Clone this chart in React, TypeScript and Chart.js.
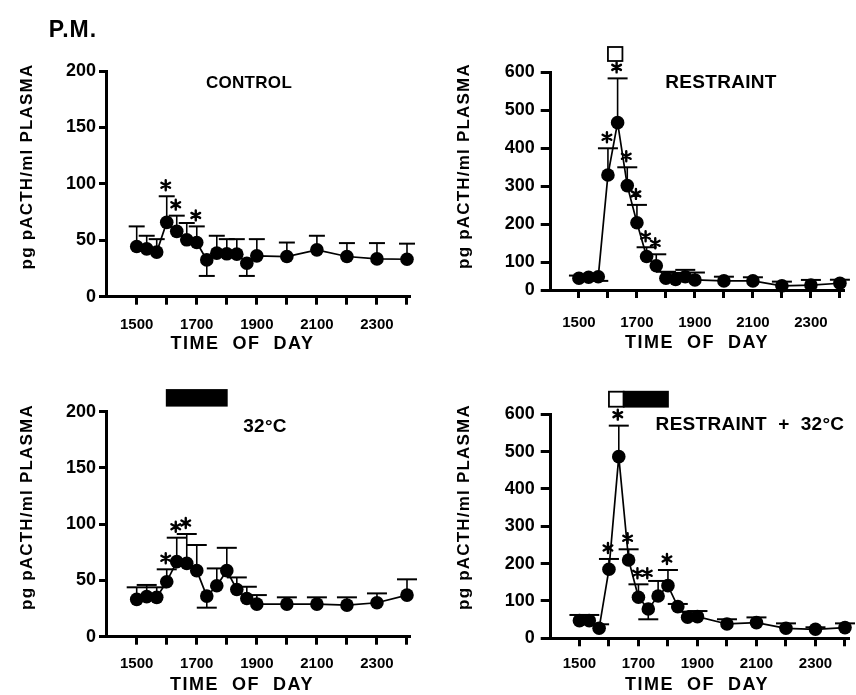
import React, { useEffect, useRef } from "react";
import { Chart, registerables } from "chart.js";
Chart.register(...registerables);

const FONT = "'Liberation Sans', Arial, Helvetica, sans-serif";

// ---- data ----
const TIMES = [1500, 1520, 1540, 1600, 1620, 1640, 1700, 1720, 1740, 1800, 1820, 1840, 1900, 2000, 2100, 2200, 2300, 2400];
const X_TICKS = [1500, 1600, 1700, 1800, 1900, 2000, 2100, 2200, 2300, 2400];
const X_TICK_LABELS = ["1500", "1700", "1900", "2100", "2300"];
const Y_TICKS_LOW = [0, 50, 100, 150, 200];
const Y_TICKS_HIGH = [0, 100, 200, 300, 400, 500, 600];

const CONTROL_MEAN = [44.5, 42.4, 39.5, 65.9, 57.9, 50.4, 48.0, 32.6, 38.6, 38.0, 37.7, 29.7, 36.2, 35.6, 41.5, 35.6, 33.5, 33.2];
const CONTROL_ERR_HI = [62.3, 54, 51, 89, 71.8, 65.3, 62.3, null, 54, 51, 51, null, 51, 48, 54, 47.5, 47.5, 47];
const CONTROL_ERR_LO = [null, null, null, null, null, null, null, 18.4, null, null, null, 18.4, null, null, null, null, null, null];
const CONTROL_SIG = [0, 0, 0, 1, 1, 0, 1, 0, 0, 0, 0, 0, 0, 0, 0, 0, 0, 0];

const RESTRAINT_MEAN = [57.9, 60.5, 62, 329.8, 467.5, 301.8, 204, 115, 91, 58, 55, 62, 53.5, 51, 51, 38, 40, 44.7];
const RESTRAINT_ERR_HI = [65, 64, null, 400, 584, 350, 251, 139.5, 121, 75, 72, 80, 73, 62, 60.5, 49, 53.5, 54];
const RESTRAINT_ERR_LO = [null, null, 51, null, null, null, null, null, null, null, null, null, null, null, null, null, null, null];
const RESTRAINT_SIG = [0, 0, 0, 1, 1, 1, 1, 1, 1, 0, 0, 0, 0, 0, 0, 0, 0, 0];

const HEAT_MEAN = [33.2, 35.6, 35.0, 48.9, 66.7, 65.2, 58.7, 36.1, 45.3, 58.7, 42.0, 34.0, 29.0, 29.0, 29.0, 28.1, 30.2, 37.0];
const HEAT_ERR_HI = [43.9, 46, 43.9, 59.9, 88, 91.3, 81.5, null, 60.7, 79, 52.7, 44.4, 37, 35, 35, 35, 38.5, 51];
const HEAT_ERR_LO = [null, null, null, null, null, null, null, 25.8, null, null, null, null, null, null, null, null, null, null];
const HEAT_SIG = [0, 0, 0, 1, 1, 1, 0, 0, 0, 0, 0, 0, 0, 0, 0, 0, 0, 0];

const BOTH_MEAN = [47.3, 47.3, 26.8, 184.8, 486.6, 209.8, 109.8, 78.6, 113.4, 141, 84.8, 56.3, 58, 38.4, 42, 26.8, 24.1, 28.6];
const BOTH_ERR_HI = [62.5, 62.5, 37.5, 212.5, 569.6, 238.4, 144.6, null, 153.6, 183, 92, 71.4, 73, 51, 56, 40, 29.5, 40];
const BOTH_ERR_LO = [null, null, null, null, null, null, null, 50.9, null, null, null, null, null, null, null, null, null, null];
const BOTH_SIG = [0, 0, 0, 1, 1, 1, 1, 1, 0, 1, 0, 0, 0, 0, 0, 0, 0, 0];

const Y_TITLE = "pg pACTH/ml PLASMA";
const X_TITLE = "TIME  OF  DAY";

function toHours(t: number) {
  return Math.floor(t / 100) + (t % 100) / 60;
}

type Bar = { from: number; to: number; y0: number; y1: number; fill: string };
type Label = { text: string; x: number; y: number; size: number; spacing?: number };
type Panel = {
  box: [number, number, number, number];
  area: [number, number, number, number];
  xMin: number;
  xMax: number;
  yMin: number;
  yMax: number;
  yTicks: number[];
  mean: number[];
  hi: (number | null)[];
  lo: (number | null)[];
  sig: number[];
  yTickLen: number;
  yTickPad: number;
  xTickPad: number;
  cap: number;
  yTitlePos: [number, number];
  xTitlePos: [number, number];
  labels: Label[];
  bars: Bar[];
};

const PANELS: Panel[] = [
  {
    box: [0, 0, 428, 360], area: [106, 71, 410, 296.7],
    xMin: 13.978, xMax: 24.1, yMin: 0, yMax: 200, yTicks: Y_TICKS_LOW,
    mean: CONTROL_MEAN, hi: CONTROL_ERR_HI, lo: CONTROL_ERR_LO, sig: CONTROL_SIG,
    yTickLen: 7, yTickPad: 3, xTickPad: 11, cap: 8,
    yTitlePos: [27, 166.5], xTitlePos: [242.5, 344],
    labels: [
      { text: "P.M.", x: 73, y: 31, size: 23, spacing: 1 },
      { text: "CONTROL", x: 249, y: 83, size: 17 },
    ],
    bars: [],
  },
  {
    box: [428, 0, 428, 360], area: [550.7, 72.3, 855, 290],
    xMin: 14.026, xMax: 24.143, yMin: 27, yMax: 600, yTicks: Y_TICKS_HIGH,
    mean: RESTRAINT_MEAN, hi: RESTRAINT_ERR_HI, lo: RESTRAINT_ERR_LO, sig: RESTRAINT_SIG,
    yTickLen: 10, yTickPad: 6, xTickPad: 16, cap: 10,
    yTitlePos: [464, 166], xTitlePos: [697, 343],
    labels: [{ text: "RESTRAINT", x: 721, y: 83, size: 19 }],
    bars: [{ from: 16, to: 16.5, y0: 47, y1: 61, fill: "#fff" }],
  },
  {
    box: [0, 360, 428, 335], area: [106, 411.7, 410, 636.7],
    xMin: 13.978, xMax: 24.1, yMin: 0, yMax: 200, yTicks: Y_TICKS_LOW,
    mean: HEAT_MEAN, hi: HEAT_ERR_HI, lo: HEAT_ERR_LO, sig: HEAT_SIG,
    yTickLen: 7, yTickPad: 3, xTickPad: 10, cap: 10,
    yTitlePos: [27, 507], xTitlePos: [242, 685],
    labels: [{ text: "32°C", x: 265, y: 427, size: 19 }],
    bars: [{ from: 16, to: 18, y0: 390, y1: 405.7, fill: "#000" }],
  },
  {
    box: [428, 360, 428, 335], area: [550.7, 414.3, 855, 638.3],
    xMin: 14.026, xMax: 24.143, yMin: 0, yMax: 600, yTicks: Y_TICKS_HIGH,
    mean: BOTH_MEAN, hi: BOTH_ERR_HI, lo: BOTH_ERR_LO, sig: BOTH_SIG,
    yTickLen: 10, yTickPad: 6, xTickPad: 9, cap: 10,
    yTitlePos: [464, 507], xTitlePos: [697, 685],
    labels: [{ text: "RESTRAINT  +  32°C", x: 750, y: 425, size: 19 }],
    bars: [
      { from: 16, to: 16.5, y0: 391.7, y1: 406.7, fill: "#fff" },
      { from: 16.5, to: 18, y0: 391.7, y1: 406.7, fill: "#000" },
    ],
  },
];

function drawStar(ctx: CanvasRenderingContext2D, x: number, y: number, r: number) {
  ctx.beginPath();
  for (let k = 0; k < 3; k++) {
    const a = Math.PI / 2 + (k * Math.PI) / 3;
    ctx.moveTo(x - r * Math.cos(a), y - r * Math.sin(a));
    ctx.lineTo(x + r * Math.cos(a), y + r * Math.sin(a));
  }
  ctx.stroke();
}

function PanelChart({ p }: { p: Panel }) {
  const ref = useRef<HTMLCanvasElement | null>(null);
  useEffect(() => {
    const canvas = ref.current;
    if (!canvas) return;
    const [bx, by, bw, bh] = p.box;
    const [al, at, ar, ab] = p.area;
    const hx = TIMES.map(toHours);

    const decor = {
      id: "decor",
      beforeDatasetsDraw(chart: any) {
        const ctx = chart.ctx as CanvasRenderingContext2D;
        const xs = chart.scales.x, ys = chart.scales.y;
        ctx.save();
        ctx.strokeStyle = "#000";
        for (let i = 0; i < hx.length; i++) {
          const px = xs.getPixelForValue(hx[i]);
          const py = ys.getPixelForValue(p.mean[i]);
          for (const e of [p.hi[i], p.lo[i]]) {
            if (e == null) continue;
            const ey = ys.getPixelForValue(e);
            ctx.lineWidth = 1.6;
            ctx.beginPath();
            ctx.moveTo(px, py);
            ctx.lineTo(px, ey);
            ctx.stroke();
            ctx.lineWidth = 2;
            ctx.beginPath();
            ctx.moveTo(px - p.cap, ey);
            ctx.lineTo(px + p.cap, ey);
            ctx.stroke();
          }
        }
        ctx.restore();
      },
      afterDatasetsDraw(chart: any) {
        const ctx = chart.ctx as CanvasRenderingContext2D;
        const xs = chart.scales.x, ys = chart.scales.y;
        ctx.save();
        ctx.strokeStyle = "#000";
        ctx.lineWidth = 2.4;
        ctx.lineCap = "round";
        let prevY: number | null = null;
        for (let i = 0; i < hx.length; i++) {
          if (!p.sig[i]) { prevY = null; continue; }
          const px = xs.getPixelForValue(hx[i]);
          let sy: number;
          const h = p.hi[i];
          if (h != null) sy = ys.getPixelForValue(h) - 11;
          else if (prevY != null) sy = prevY;
          else sy = ys.getPixelForValue(p.mean[i]) - 18;
          drawStar(ctx, px - 1, sy, 5);
          prevY = sy;
        }
        ctx.restore();
      },
      afterDraw(chart: any) {
        const ctx = chart.ctx as CanvasRenderingContext2D;
        const xs = chart.scales.x;
        ctx.save();
        // stimulus bars
        for (const b of p.bars) {
          const x0 = xs.getPixelForValue(b.from);
          const x1 = xs.getPixelForValue(b.to);
          ctx.fillStyle = b.fill;
          ctx.fillRect(x0, b.y0 - by, x1 - x0, b.y1 - b.y0);
          ctx.strokeStyle = "#000";
          ctx.lineWidth = 1.8;
          ctx.strokeRect(x0, b.y0 - by, x1 - x0, b.y1 - b.y0);
        }
        ctx.fillStyle = "#000";
        ctx.textAlign = "center";
        ctx.textBaseline = "middle";
        for (const l of p.labels) {
          ctx.font = `bold ${l.size}px ${FONT}`;
          (ctx as any).letterSpacing = `${l.spacing ?? 0.3}px`;
          ctx.fillText(l.text, l.x - bx, l.y - by);
        }
        // axis titles
        ctx.font = `bold 17px ${FONT}`;
        (ctx as any).letterSpacing = "1.2px";
        ctx.save();
        ctx.translate(p.yTitlePos[0] - bx, p.yTitlePos[1] - by);
        ctx.rotate(-Math.PI / 2);
        ctx.fillText(Y_TITLE, 0, 0);
        ctx.restore();
        ctx.font = `bold 18px ${FONT}`;
        (ctx as any).letterSpacing = "1.5px";
        ctx.fillText(X_TITLE, p.xTitlePos[0] - bx, p.xTitlePos[1] - by);
        ctx.restore();
      },
    };

    const chart = new Chart(canvas, {
      type: "line",
      data: {
        datasets: [
          {
            data: hx.map((x, i) => ({ x, y: p.mean[i] })),
            borderColor: "#000",
            borderWidth: 1.7,
            pointRadius: 6.8,
            pointHoverRadius: 6.8,
            pointBackgroundColor: "#000",
            pointBorderWidth: 0,
            tension: 0,
            fill: false,
            clip: false,
          } as any,
        ],
      },
      options: {
        animation: false,
        responsive: false,
        maintainAspectRatio: false,
        devicePixelRatio: 1,
        events: [],
        layout: { padding: { left: 0, top: at - by, right: bx + bw - ar, bottom: 0 } },
        plugins: { legend: { display: false }, tooltip: { enabled: false }, title: { display: false } },
        scales: {
          x: {
            type: "linear",
            min: p.xMin,
            max: p.xMax,
            afterBuildTicks: (s: any) => {
              s.ticks = X_TICKS.map((t) => ({ value: toHours(t) }));
            },
            afterFit: (s: any) => {
              s.height = by + bh - ab;
            },
            ticks: {
              color: "#000",
              font: { family: FONT, size: 15, weight: "bold" },
              padding: p.xTickPad,
              autoSkip: false,
              maxRotation: 0,
              callback: (v: any) => {
                const lab = X_TICK_LABELS.find((l) => Math.abs(toHours(Number(l)) - Number(v)) < 1e-6);
                return lab ?? "";
              },
            },
            grid: { display: true, drawOnChartArea: false, drawTicks: true, tickLength: 8, tickWidth: 3, tickColor: "#000", color: "#000" },
            border: { display: true, color: "#000", width: 3 },
          },
          y: {
            type: "linear",
            min: p.yMin,
            max: p.yMax,
            afterBuildTicks: (s: any) => {
              s.ticks = p.yTicks.map((v) => ({ value: v === 0 ? p.yMin : v }));
            },
            afterFit: (s: any) => {
              s.width = al - bx;
            },
            ticks: {
              color: "#000",
              font: { family: FONT, size: 18, weight: "bold" },
              padding: p.yTickPad,
              callback: (v: any) => (Number(v) === p.yMin ? "0" : String(v)),
            },
            grid: { display: true, drawOnChartArea: false, drawTicks: true, tickLength: p.yTickLen, tickWidth: 3, tickColor: "#000", color: "#000" },
            border: { display: true, color: "#000", width: 3 },
          },
        },
      } as any,
      plugins: [decor],
    });
    return () => chart.destroy();
  }, [p]);
  const [bx, by, bw, bh] = p.box;
  return (
    <canvas
      ref={ref}
      width={bw}
      height={bh}
      style={{ position: "absolute", left: bx, top: by, width: bw, height: bh }}
    />
  );
}

export default function App() {
  return (
    <div style={{ position: "absolute", left: 0, top: 0, width: 856, height: 695, background: "#fff", overflow: "hidden" }}>
      {PANELS.map((p, i) => (
        <PanelChart key={i} p={p} />
      ))}
    </div>
  );
}
